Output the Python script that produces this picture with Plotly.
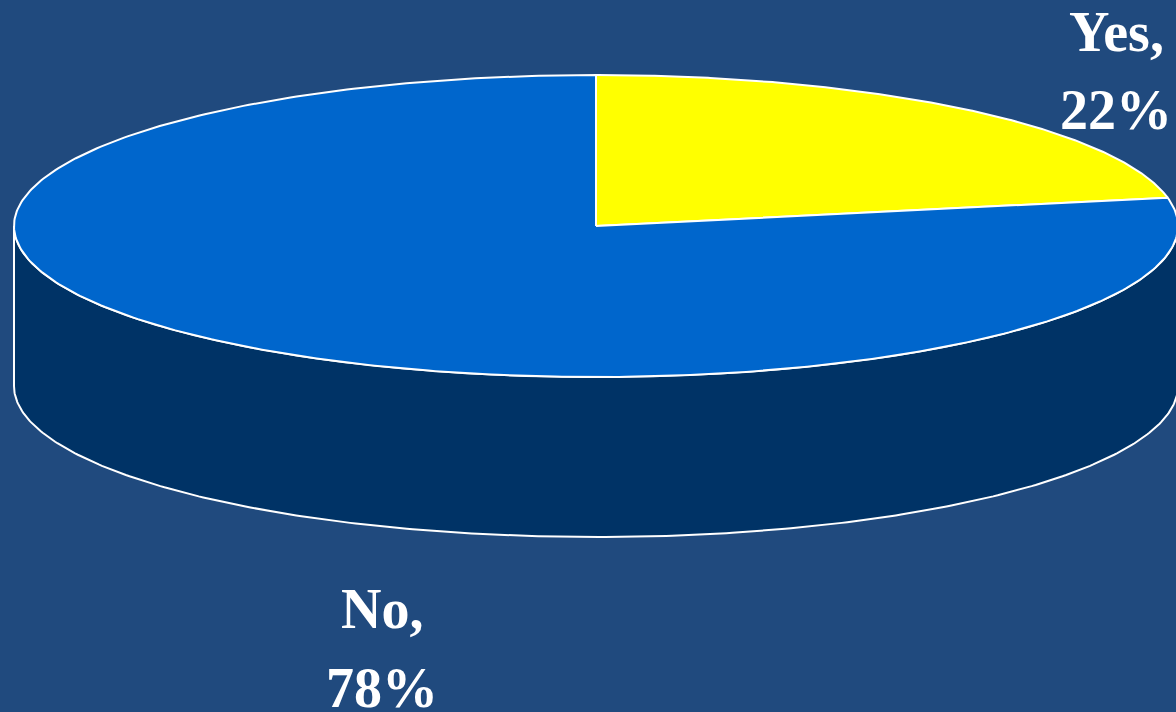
import numpy as np
import plotly.graph_objects as go

# Data
labels = ["Yes", "No"]
values = [22, 78]
colors = ["#FFFF00", "#0066CC"]
side_color = "#003366"
bg = "#204A7E"

# Geometry (pixel-like data space)
W, H = 1176, 712
cx, cy = 596, 226
rx, ry = 582, 151
depth = 160

def ell(theta_deg, dy=0):
    t = np.radians(theta_deg)
    return cx + rx * np.cos(t), cy - ry * np.sin(t) + dy

fig = go.Figure()

# Side (front visible wall): angles 180 -> 360
th = np.linspace(180, 360, 300)
xt, yt = ell(th)
xb, yb = ell(th[::-1], depth)
fig.add_trace(go.Scatter(
    x=np.concatenate([xt, xb, xt[:1]]), y=np.concatenate([yt, yb, yt[:1]]),
    mode="lines", fill="toself", fillcolor=side_color,
    line=dict(color="white", width=2), hoverinfo="skip", showlegend=False))

# Top slices, clockwise from 12 o'clock
total = sum(values)
start = 90.0
for lab, v, c in zip(labels, values, colors):
    sweep = 360.0 * v / total
    th = np.linspace(start, start - sweep, 400)
    xs, ys = ell(th)
    x = np.concatenate([[cx], xs, [cx]])
    y = np.concatenate([[cy], ys, [cy]])
    fig.add_trace(go.Scatter(x=x, y=y, mode="lines", fill="toself", fillcolor=c,
                             line=dict(color="white", width=2), name=lab,
                             hoverinfo="name", showlegend=False))
    start -= sweep

font = dict(family="Liberation Serif, Times New Roman, serif", size=56, color="white")
label_pos = {"Yes": (1116, 32, 110), "No": (382, 609, 688)}
for lab, v in zip(labels, values):
    px, y1, y2 = label_pos[lab]
    fig.add_annotation(x=px, y=y1, text=f"<b>{lab},</b>", showarrow=False,
                       xref="x", yref="y", font=font, xanchor="center", yanchor="middle")
    fig.add_annotation(x=px, y=y2, text=f"<b>{v}%</b>", showarrow=False,
                       xref="x", yref="y", font=font, xanchor="center", yanchor="middle")

fig.update_layout(
    width=W, height=H, margin=dict(l=0, r=0, t=0, b=0),
    paper_bgcolor=bg, plot_bgcolor=bg,
    xaxis=dict(range=[0, W], visible=False, fixedrange=True),
    yaxis=dict(range=[H, 0], visible=False, fixedrange=True),
)
fig.write_html("out.html", config={"displayModeBar": False},
               post_script="document.body.style.margin='0';document.body.style.overflow='hidden';")
